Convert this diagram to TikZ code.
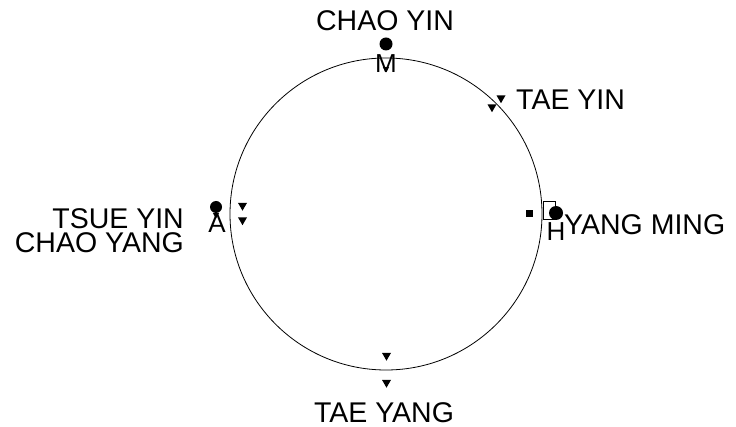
\documentclass[tikz,border=0pt]{standalone}
\usepackage{fontspec}
\setmainfont{Liberation Sans}
\usetikzlibrary{shapes.geometric}
\begin{document}
\begin{tikzpicture}[x=1pt,y=-1pt,
  lbl/.style={inner sep=0pt,font=\fontsize{28.5}{30}\selectfont},
  letter/.style={inner sep=0pt,font=\fontsize{26}{30}\selectfont},
  tri/.style={regular polygon,regular polygon sides=3,shape border rotate=180,fill=black,inner sep=0pt,minimum size=10.4pt},
  smalltri/.style={tri,minimum size=7pt},
  bigdot/.style={circle,fill=black,inner sep=0pt,minimum size=13pt},
  sq/.style={rectangle,fill=black,inner sep=0pt,minimum size=7pt}]
\useasboundingbox (0,0) rectangle (736,427);
% circle
\node[circle,draw,line width=0.8pt,minimum size=312pt,inner sep=0pt] (ring) at (386,214) {};
% top
\node[lbl,anchor=base] (chaoyin) at (385,31) {CHAO YIN};
\node[bigdot] (dtop) at (386,44) {};
\node[letter,anchor=base] (m) at (386,73) {M};
\node[smalltri] (tm) at (386,69) {};
% tae yin
\node[tri] (ty1) at (492,107) {};
\node[tri] (ty2) at (501,98) {};
\node[lbl,anchor=base west] (taeyin) at (516,110) {TAE YIN};
% left
\node[lbl,anchor=base east] (tsueyin) at (184,229) {TSUE YIN};
\node[lbl,anchor=base east] (chaoyang) at (184,253) {CHAO YANG};
\node[bigdot,minimum size=12pt] (dleft) at (216,207) {};
\node[letter,anchor=base] (a) at (217,233) {A};
\coordinate (astem) at (216,214);
\draw[line width=0.8pt] (dleft.center) -- (astem);
\node[smalltri] (ta) at (216,215) {};
\node[tri] (tl1) at (242.5,205.5) {};
\node[tri] (tl2) at (242.5,220) {};
% right
\node[sq] (sqr) at (529,213.5) {};
\node[draw,line width=0.8pt,inner sep=0pt,minimum width=12pt,minimum height=18pt] (frame) at (549,210) {};
\node[bigdot,minimum size=14pt] (dright) at (556,213) {};
\node[letter,anchor=base] (h) at (556,241) {H};
\node[lbl,anchor=base west] (yangming) at (564,235) {YANG MING};
% bottom
\node[tri] (tb1) at (386.5,355.5) {};
\node[tri] (tb2) at (386.5,382.5) {};
\node[lbl,anchor=base] (taeyang) at (384,422) {TAE YANG};
\end{tikzpicture}
\end{document}
